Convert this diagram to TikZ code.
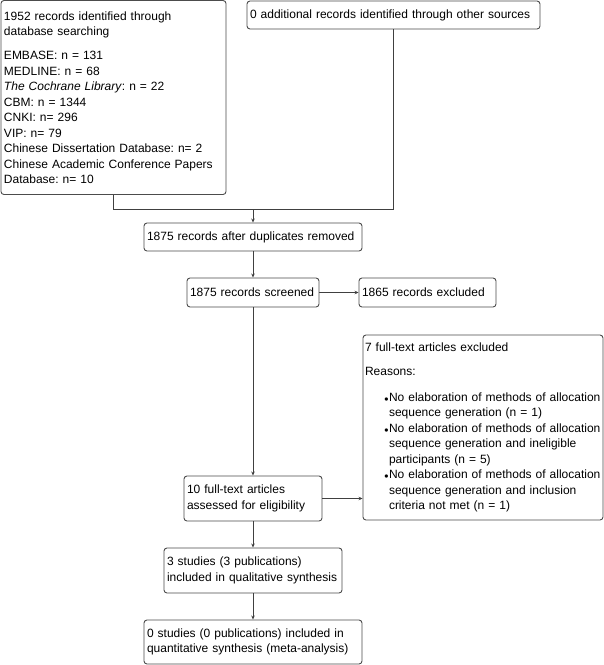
\documentclass[tikz,border=0pt]{standalone}
\usepackage{fontspec}
\setmainfont{Liberation Sans}
\usetikzlibrary{arrows.meta}
\frenchspacing
\hyphenpenalty=10000
\newcommand\bitem[1]{\mbox{\hspace*{24pt}\llap{\raisebox{-1.8pt}{\textbullet}\hspace{0.5pt}}#1}}
\newcommand\bcont[1]{\mbox{\hspace*{24pt}#1}}
\begin{document}
\begin{tikzpicture}[x=1pt,y=-1pt,
  box/.style={draw=black!70, line width=0.9pt, rounded corners=3pt, align=left,
    inner sep=0pt, font=\fontsize{12}{15.5}\selectfont, anchor=center},
  conn/.style={draw=black!75, line width=0.9pt},
  arr/.style={conn, -{Stealth[length=4pt,width=3.5pt]}}]
\useasboundingbox (0,0) rectangle (604,665);
\fill[white] (0,0) rectangle (604,665);
\node[box, minimum width=225pt, minimum height=194pt, text width=219pt] (b1) at (113.5,97.5)
 {1952 records identified through\\
  database searching\\[8.5pt]
  EMBASE: n = 131\\
  MEDLINE: n = 68\\
  \textit{The Cochrane Library}: n = 22\\
  CBM: n = 1344\\
  CNKI: n= 296\\
  VIP: n= 79\\
  Chinese Dissertation Database: n= 2\\
  Chinese Academic Conference Papers\\
  Database: n= 10};
\node[box, minimum width=293pt, minimum height=28pt, text width=287pt] (b2) at (393.5,15)
 {0 additional records identified through other sources};
\node[box, minimum width=218pt, minimum height=28pt, text width=212pt] (b3) at (253,237)
 {1875 records after duplicates removed};
\node[box, minimum width=132pt, minimum height=29pt, text width=126pt] (b4) at (253,292.5)
 {1875 records screened};
\node[box, minimum width=137pt, minimum height=29pt, text width=131pt] (b5) at (427.5,292.5)
 {1865 records excluded};
\node[box, minimum width=240pt, minimum height=185pt, text width=236pt] (b6) at (483,427.5)
 {7 full-text articles excluded\\[8.5pt]
  Reasons:\\[10.5pt]
  \bitem{No elaboration of methods of allocation}\\
  \bcont{sequence generation (n = 1)}\\
  \bitem{No elaboration of methods of allocation}\\
  \bcont{sequence generation and ineligible}\\
  \bcont{participants (n = 5)}\\
  \bitem{No elaboration of methods of allocation}\\
  \bcont{sequence generation and inclusion}\\
  \bcont{criteria not met (n = 1)}};
\node[box, minimum width=138pt, minimum height=45pt, text width=132pt] (b7) at (253,498.5)
 {10 full-text articles\\assessed for eligibility};
\node[box, minimum width=178pt, minimum height=45pt, text width=172pt] (b8) at (253,570.5)
 {3 studies (3 publications)\\included in qualitative synthesis};
\node[box, minimum width=218pt, minimum height=44pt, text width=212pt] (b9) at (253,642)
 {0 studies (0 publications) included in\\quantitative synthesis (meta-analysis)};
\coordinate (j) at (253,209);
\draw[conn] (b1.south) -- (b1.south |- j) -- (j -| b2.south) -- (b2.south);
\draw[arr] (j) -- (b3.north);
\draw[arr] (b3.south) -- (b4.north);
\draw[arr] (b4.east) -- (b5.west);
\draw[arr] (b4.south) -- (b7.north);
\draw[arr] (b7.east) -- (b7.east -| b6.west);
\draw[arr] (b7.south) -- (b8.north);
\draw[arr] (b8.south) -- (b9.north);
\end{tikzpicture}
\end{document}
